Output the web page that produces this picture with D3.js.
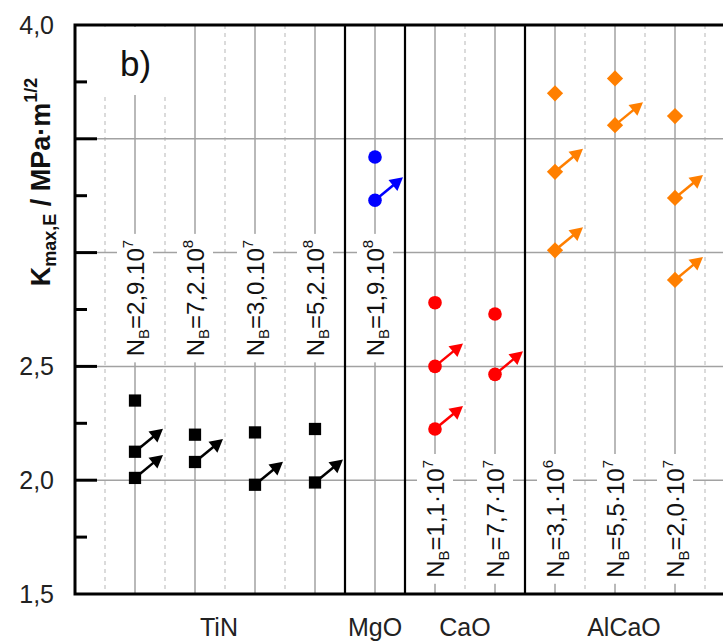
<!DOCTYPE html>
<html>
<head>
<meta charset="utf-8">
<script src="https://cdn.jsdelivr.net/npm/d3@7"></script>
<style>
  html, body { margin: 0; padding: 0; background: #fff; }
  svg { display: block; font-family: Arial, "Liberation Sans", sans-serif; }
</style>
</head>
<body>
<svg id="chart" width="723" height="644"></svg>
<script>
// Material groups and the column span each one occupies
const groups = ["TiN", "MgO", "CaO", "AlCaO"];
const groupStart = [0, 4.5, 5.5, 7.5];
const groupEnd = [4.5, 5.5, 7.5, 10.8];
const groupLabelAt = [2.4, 5, 6.5, 9.15];

// Test columns and cycle counts N_B
const columns = [1, 2, 3, 4, 5, 6, 7, 8, 9, 10];
const columnGroup = ["TiN", "TiN", "TiN", "TiN", "MgO", "CaO", "CaO", "AlCaO", "AlCaO", "AlCaO"];
const cycleCoefficient = ["2,9.10", "7,2.10", "3,0.10", "5,2.10", "1,9.10", "1,1·10", "7,7·10", "3,1·10", "5,5·10", "2,0·10"];
const cycleExponent = ["7", "8", "7", "8", "8", "7", "7", "6", "7", "7"];

// K_max,E values per material (column, value, run-out flag)
const tinColumn = [1, 1, 1, 2, 2, 3, 3, 4, 4];
const tinK = [2.35, 2.125, 2.01, 2.20, 2.08, 2.21, 1.98, 2.225, 1.99];
const tinRunout = [false, true, true, false, true, false, true, false, true];

const mgoColumn = [5, 5];
const mgoK = [3.42, 3.23];
const mgoRunout = [false, true];

const caoColumn = [6, 6, 6, 7, 7];
const caoK = [2.78, 2.50, 2.225, 2.73, 2.465];
const caoRunout = [false, true, true, false, true];

const alcaoColumn = [8, 8, 8, 9, 9, 10, 10, 10];
const alcaoK = [3.70, 3.355, 3.01, 3.765, 3.56, 3.60, 3.24, 2.88];
const alcaoRunout = [false, true, true, false, true, false, true, true];

// Axis: the title occupies the space of the 3,0 and 3,5 labels
const yTicks = [1.5, 2.0, 2.5, 3.0, 3.5, 4.0];
const yTickLabels = ["1,5", "2,0", "2,5", "", "", "4,0"];
const yMinorTicks = [1.75, 2.25, 2.75, 3.25, 3.75];
const dashedColumns = [0.5, 1.5, 2.5, 3.5, 6.5, 8.5, 9.5, 10.5];

const svg = d3.select("#chart");
const plotLeft = 75, plotTop = 25, plotBottom = 594, plotRight = 723;

const x = d3.scaleLinear().domain([0, 10.8]).range([plotLeft, plotRight]);
const y = d3.scaleLinear().domain([1.5, 4.0]).range([plotBottom, plotTop]);

const gridColor = "#a2a2a2";

// dashed helper lines between columns
svg.append("g").selectAll("line").data(dashedColumns).join("line")
  .attr("x1", d => x(d)).attr("x2", d => x(d))
  .attr("y1", plotTop).attr("y2", plotBottom)
  .attr("stroke", "#c4c4c4").attr("stroke-width", 1.2)
  .attr("stroke-dasharray", "4,4");

// horizontal grid
svg.append("g").selectAll("line").data(yTicks.filter(v => v > 1.5 && v < 4.0)).join("line")
  .attr("x1", plotLeft).attr("x2", plotRight)
  .attr("y1", d => y(d)).attr("y2", d => y(d))
  .attr("stroke", gridColor).attr("stroke-width", 1.5);

// column lines
svg.append("g").selectAll("line").data(columns).join("line")
  .attr("x1", d => x(d)).attr("x2", d => x(d))
  .attr("y1", plotTop).attr("y2", plotBottom)
  .attr("stroke", gridColor).attr("stroke-width", 1.5);

// panel tag with a white backing
svg.append("rect").attr("x", plotLeft + 2).attr("y", plotTop + 2)
  .attr("width", 104).attr("height", 68).attr("fill", "#fff");
svg.append("text").attr("x", 120).attr("y", 76)
  .attr("font-size", 35).attr("fill", "#111").text("b)");

// cycle-count labels, rotated, on white backing
const labelCenter = { "TiN": 2.80, "MgO": 2.80, "CaO": 1.83, "AlCaO": 1.83 };
const labelLayer = svg.append("g");
columns.forEach((c, i) => {
  const g = labelLayer.append("g")
    .attr("transform", `translate(${x(c)},${y(labelCenter[columnGroup[i]])}) rotate(-90)`);
  const bg = g.append("rect").attr("fill", "#fff");
  const t = g.append("text").attr("text-anchor", "middle")
    .attr("font-size", 24).attr("fill", "#111").attr("y", 8.5);
  t.append("tspan").text("N");
  t.append("tspan").attr("font-size", 15).attr("dy", 5).text("B");
  t.append("tspan").attr("dy", -5).text("=" + cycleCoefficient[i]);
  t.append("tspan").attr("font-size", 15).attr("dy", -11).text(cycleExponent[i]);
  const len = t.node().getComputedTextLength();
  bg.attr("x", -len / 2 - 6).attr("width", len + 12)
    .attr("y", -18).attr("height", 36);
});

// group separators
svg.append("g").selectAll("line").data(groupStart.slice(1)).join("line")
  .attr("x1", d => x(d)).attr("x2", d => x(d))
  .attr("y1", plotTop).attr("y2", plotBottom)
  .attr("stroke", "#000").attr("stroke-width", 2.2);

// frame
svg.append("path")
  .attr("d", `M${plotRight},${plotTop}H${plotLeft}V${plotBottom}H${plotRight}`)
  .attr("fill", "none").attr("stroke", "#000").attr("stroke-width", 3);

// ticks (inside)
svg.append("g").selectAll("line").data(yTicks.filter(v => v > 1.5 && v < 4.0)).join("line")
  .attr("x1", plotLeft).attr("x2", plotLeft + 22)
  .attr("y1", d => y(d)).attr("y2", d => y(d))
  .attr("stroke", "#000").attr("stroke-width", 3);
svg.append("g").selectAll("line").data(yMinorTicks).join("line")
  .attr("x1", plotLeft).attr("x2", plotLeft + 12)
  .attr("y1", d => y(d)).attr("y2", d => y(d))
  .attr("stroke", "#000").attr("stroke-width", 3);

// tick labels
svg.append("g").selectAll("text").data(yTicks).join("text")
  .attr("x", 54).attr("y", d => y(d)).attr("dy", "0.36em")
  .attr("text-anchor", "end").attr("font-size", 25).attr("fill", "#222")
  .text((d, i) => yTickLabels[i]);

// axis title
const title = svg.append("text")
  .attr("transform", `translate(50,182) rotate(-90)`)
  .attr("text-anchor", "middle").attr("font-size", 27).attr("font-weight", "bold").attr("fill", "#111");
title.append("tspan").text("K");
title.append("tspan").attr("font-size", 18).attr("dy", 6).text("max,E");
title.append("tspan").attr("dy", -6).text(" / MPa·m");
title.append("tspan").attr("font-size", 18).attr("dy", -13).text("1/2");

// group labels
svg.append("g").selectAll("text").data(groups).join("text")
  .attr("x", (d, i) => x(groupLabelAt[i])).attr("y", 636)
  .attr("text-anchor", "middle").attr("font-size", 25).attr("fill", "#222")
  .text(d => d);

// data points with run-out arrows
const arrowDx = 28, arrowDy = -23, headLen = 13, headHalf = 7;
function drawSeries(cols, vals, runout, color, shape) {
  const g = svg.append("g");
  cols.forEach((c, i) => {
    const px = x(c), py = y(vals[i]);
    if (runout[i]) {
      const L = Math.hypot(arrowDx, arrowDy);
      const ux = arrowDx / L, uy = arrowDy / L;
      const tx = px + arrowDx, ty = py + arrowDy;
      const bx = tx - ux * headLen, by = ty - uy * headLen;
      g.append("line").attr("x1", px).attr("y1", py).attr("x2", bx + ux * 2).attr("y2", by + uy * 2)
        .attr("stroke", color).attr("stroke-width", 2.5);
      g.append("path")
        .attr("d", `M${tx},${ty}L${bx - uy * headHalf},${by + ux * headHalf}L${bx + uy * headHalf},${by - ux * headHalf}Z`)
        .attr("fill", color);
    }
    const sym = g.append("path").attr("fill", color);
    if (shape === "square") {
      sym.attr("d", d3.symbol(d3.symbolSquare, 150)()).attr("transform", `translate(${px},${py})`);
    } else if (shape === "circle") {
      sym.attr("d", d3.symbol(d3.symbolCircle, 145)()).attr("transform", `translate(${px},${py})`);
    } else {
      sym.attr("d", d3.symbol(d3.symbolSquare, 132)()).attr("transform", `translate(${px},${py}) rotate(45)`);
    }
  });
}
drawSeries(tinColumn, tinK, tinRunout, "#000", "square");
drawSeries(mgoColumn, mgoK, mgoRunout, "#0000ff", "circle");
drawSeries(caoColumn, caoK, caoRunout, "#ff0000", "circle");
drawSeries(alcaoColumn, alcaoK, alcaoRunout, "#ff7f00", "diamond");
</script>
</body>
</html>
